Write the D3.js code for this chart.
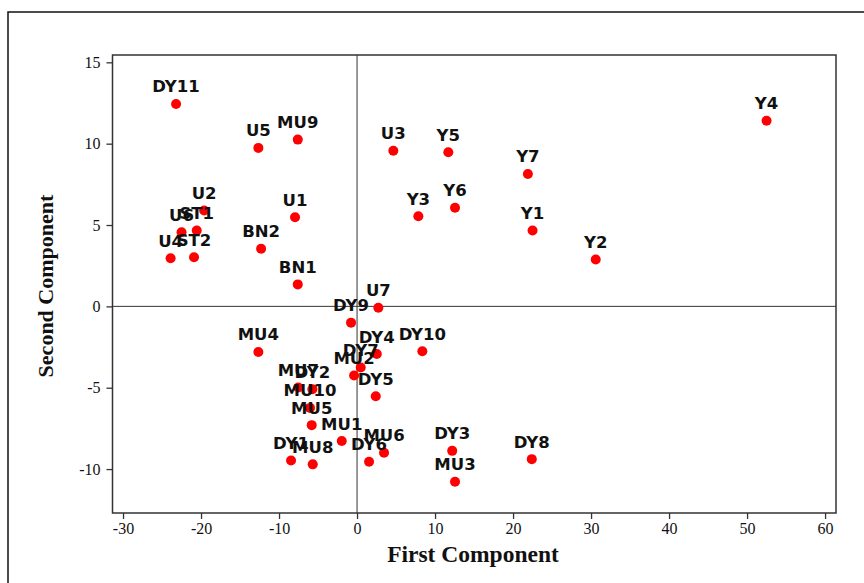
<!DOCTYPE html>
<html>
<head>
<meta charset="utf-8">
<script src="https://cdn.jsdelivr.net/npm/d3@7"></script>
<style>
  html, body { margin: 0; padding: 0; background: #fff; }
  svg { display: block; }
</style>
</head>
<body>
<svg id="chart" width="864" height="583"></svg>
<script>
// Sample scores on the first two principal components
const sampleLabels = [
  "DY11", "U5", "MU9", "U3", "Y5", "Y7", "Y4",
  "U2", "ST1", "U6", "U4", "ST2", "BN2", "U1", "BN1",
  "Y3", "Y6", "Y1", "Y2",
  "U7", "DY9", "DY10", "MU4", "DY4", "DY7", "MU2", "DY5",
  "MU7", "DY2", "MU10", "MU5", "MU1",
  "DY1", "MU8", "DY6", "MU6", "DY3", "MU3", "DY8"
];
const firstComponent = [
  -23.2, -12.65, -7.6, 4.65, 11.7, 21.9, 52.5,
  -19.6, -20.55, -22.5, -23.9, -20.9, -12.3, -7.95, -7.6,
  7.86, 12.56, 22.5, 30.6,
  2.73, -0.77, 8.37, -12.65, 2.53, 0.47, -0.38, 2.4,
  -7.53, -5.73, -6.03, -5.81, -1.96,
  -8.46, -5.68, 1.54, 3.46, 12.2, 12.56, 22.4
];
const secondComponent = [
  12.44, 9.74, 10.25, 9.57, 9.47, 8.14, 11.41,
  5.89, 4.66, 4.56, 2.96, 3.02, 3.54, 5.48, 1.35,
  5.54, 6.06, 4.66, 2.88,
  -0.08, -1.0, -2.76, -2.8, -2.93, -3.76, -4.25, -5.52,
  -4.99, -5.09, -6.24, -7.3, -8.28,
  -9.47, -9.71, -9.55, -9.0, -8.88, -10.78, -9.39
];
const xTickValues = [-30, -20, -10, 0, 10, 20, 30, 40, 50, 60];
const yTickValues = [-10, -5, 0, 5, 10, 15];
const xTitle = "First Component";
const yTitle = "Second Component";

const points = sampleLabels.map((name, i) => ({
  name, x: firstComponent[i], y: secondComponent[i]
}));

const svg = d3.select("#chart");
const frame = { left: 112.5, right: 836, top: 55, bottom: 513 };

const x = d3.scaleLinear().domain([-31.35, 61.4]).range([frame.left, frame.right]);
const y = d3.scaleLinear().domain([-12.7, 15.45]).range([frame.bottom, frame.top]);

// outer border
svg.append("rect")
  .attr("x", 8).attr("y", 12)
  .attr("width", 900).attr("height", 700)
  .attr("fill", "none").attr("stroke", "#111").attr("stroke-width", 1.5);

// reference lines through the origin
svg.append("line")
  .attr("x1", x(0)).attr("x2", x(0))
  .attr("y1", frame.top).attr("y2", frame.bottom)
  .attr("stroke", "#333").attr("stroke-width", 1);
svg.append("line")
  .attr("x1", frame.left).attr("x2", frame.right)
  .attr("y1", y(0)).attr("y2", y(0))
  .attr("stroke", "#333").attr("stroke-width", 1);

// plot frame
svg.append("rect")
  .attr("x", frame.left).attr("y", frame.top)
  .attr("width", frame.right - frame.left).attr("height", frame.bottom - frame.top)
  .attr("fill", "none").attr("stroke", "#333").attr("stroke-width", 1.5);

const tickFont = "'Liberation Serif', 'Times New Roman', serif";

const xAxis = svg.append("g")
  .attr("transform", `translate(0,${frame.bottom})`)
  .call(d3.axisBottom(x).tickValues(xTickValues).tickSize(6).tickPadding(4)
    .tickFormat(d => String(d)));
const yAxis = svg.append("g")
  .attr("transform", `translate(${frame.left},0)`)
  .call(d3.axisLeft(y).tickValues(yTickValues).tickSize(6).tickPadding(6)
    .tickFormat(d => String(d)));

[xAxis, yAxis].forEach(g => {
  g.select(".domain").remove();
  g.selectAll(".tick line").attr("stroke", "#333").attr("stroke-width", 1.3);
  g.selectAll(".tick text")
    .attr("fill", "#111")
    .style("font-family", tickFont)
    .style("font-size", "16px");
});

// axis titles
svg.append("text")
  .attr("x", 473).attr("y", 562)
  .attr("text-anchor", "middle")
  .style("font-family", tickFont)
  .style("font-weight", "bold")
  .style("font-size", "23.5px")
  .attr("fill", "#111")
  .text(xTitle);
svg.append("text")
  .attr("transform", "translate(53,286) rotate(-90)")
  .attr("text-anchor", "middle")
  .style("font-family", tickFont)
  .style("font-weight", "bold")
  .style("font-size", "22px")
  .attr("fill", "#111")
  .text(yTitle);

// points
svg.append("g").selectAll("circle")
  .data(points).join("circle")
  .attr("cx", d => x(d.x))
  .attr("cy", d => y(d.y))
  .attr("r", 5)
  .attr("fill", "#ff0000");

// point labels
svg.append("g").selectAll("text")
  .data(points).join("text")
  .attr("x", d => x(d.x))
  .attr("y", d => y(d.y) - 11.5)
  .attr("text-anchor", "middle")
  .style("font-family", "'DejaVu Sans', Verdana, sans-serif")
  .style("font-weight", "bold")
  .style("font-size", "16.5px")
  .attr("fill", "#111")
  .text(d => d.name);
</script>
</body>
</html>
